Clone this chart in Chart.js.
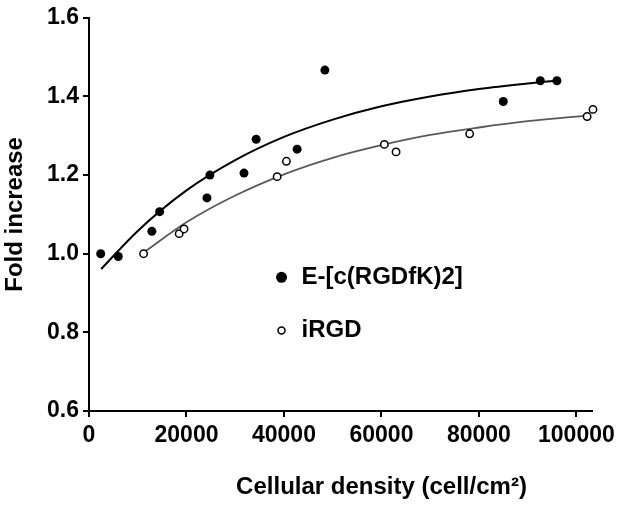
<!DOCTYPE html>
<html>
<head>
<meta charset="utf-8">
<script src="https://cdn.jsdelivr.net/npm/chart.js@4.4.1/dist/chart.umd.min.js"></script>
<style>
    html, body { margin: 0; padding: 0; background: #fff; }
    #wrap { width: 626px; height: 506px; }
</style>
</head>
<body>
<div id="wrap"><canvas id="densityChart" width="626" height="506"></canvas></div>
<script>
// values
const rgdfkX = [2400, 6000, 12900, 14500, 24200, 24800, 31800, 34300, 42700, 48400, 85000, 92600, 96000];
const rgdfkY = [1.000, 0.993, 1.057, 1.107, 1.142, 1.200, 1.205, 1.291, 1.266, 1.467, 1.387, 1.440, 1.440];
const irgdX = [11200, 18500, 19500, 38600, 40500, 60600, 63000, 78100, 102200, 103400];
const irgdY = [1.000, 1.051, 1.063, 1.196, 1.235, 1.278, 1.259, 1.305, 1.349, 1.367];

// fitted curves
const fitRgdfkX = [2500, 10000, 20000, 30000, 40000, 50000, 60000, 70000, 80000, 90000, 96000];
const fitRgdfkY = [0.961, 1.058, 1.161, 1.238, 1.297, 1.341, 1.375, 1.400, 1.419, 1.433, 1.440];
const fitIrgdX = [11200, 20000, 30000, 40000, 50000, 60000, 70000, 80000, 90000, 103000];
const fitIrgdY = [1.003, 1.080, 1.148, 1.202, 1.244, 1.276, 1.302, 1.321, 1.337, 1.352];

const xTicks = [0, 20000, 40000, 60000, 80000, 100000];
const yTicks = [0.6, 0.8, 1.0, 1.2, 1.4, 1.6];
const seriesNames = ['E-[c(RGDfK)2]', 'iRGD'];

const FONT = '"Liberation Sans", Arial, sans-serif';

function toPoints(xs, ys) {
    return xs.map((x, i) => ({ x: x, y: ys[i] }));
}

// legend inside the plot + x axis title
const annotations = {
    id: 'annotations',
    afterDraw(chart) {
        const ctx = chart.ctx;
        const xs = chart.scales.x, ys = chart.scales.y;
        const area = chart.chartArea;
        ctx.save();
        ctx.fillStyle = '#000';
        ctx.strokeStyle = '#000';
        ctx.font = 'bold 24px ' + FONT;
        ctx.textBaseline = 'middle';
        ctx.textAlign = 'left';

        // filled marker
        let px = xs.getPixelForValue(39500), py = ys.getPixelForValue(0.940);
        ctx.beginPath();
        ctx.arc(px, py, 5.5, 0, Math.PI * 2);
        ctx.fill();
        ctx.fillText(seriesNames[0], px + 20, py);

        // open marker
        py = ys.getPixelForValue(0.805);
        ctx.beginPath();
        ctx.lineWidth = 1.5;
        ctx.fillStyle = '#fff';
        ctx.arc(px, py, 3.5, 0, Math.PI * 2);
        ctx.fill();
        ctx.stroke();
        ctx.fillStyle = '#000';
        ctx.fillText(seriesNames[1], px + 20, py);

        // x axis title
        ctx.textAlign = 'center';
        ctx.fillText('Cellular density (cell/cm\u00b2)', (area.left + area.right) / 2 + 41, area.bottom + 76);
        ctx.restore();
    }
};

const densityCtx = document.getElementById('densityChart').getContext('2d');
const densityChart = new Chart(densityCtx, {
    type: 'scatter',
    data: {
        datasets: [
            {
                label: 'fit RGDfK',
                data: toPoints(fitRgdfkX, fitRgdfkY),
                showLine: true,
                borderColor: '#000',
                borderWidth: 2,
                pointRadius: 0,
                cubicInterpolationMode: 'monotone',
                clip: false,
                order: 3
            },
            {
                label: 'fit iRGD',
                data: toPoints(fitIrgdX, fitIrgdY),
                showLine: true,
                borderColor: '#5a5a5a',
                borderWidth: 1.8,
                pointRadius: 0,
                cubicInterpolationMode: 'monotone',
                clip: false,
                order: 4
            },
            {
                label: seriesNames[0],
                data: toPoints(rgdfkX, rgdfkY),
                backgroundColor: '#000',
                borderColor: '#000',
                borderWidth: 0,
                pointRadius: 4.5,
                clip: false,
                order: 1
            },
            {
                label: seriesNames[1],
                data: toPoints(irgdX, irgdY),
                backgroundColor: '#fff',
                borderColor: '#000',
                borderWidth: 1.5,
                pointRadius: 3.7,
                clip: false,
                order: 2
            }
        ]
    },
    options: {
        responsive: false,
        animation: false,
        layout: {
            padding: { top: 14, right: 34, left: 0, bottom: 0 }
        },
        plugins: {
            legend: { display: false },
            tooltip: { enabled: false }
        },
        scales: {
            x: {
                type: 'linear',
                min: 0,
                max: 103200,
                afterBuildTicks: function(scale) {
                    scale.ticks = xTicks.map(v => ({ value: v }));
                },
                afterFit: function(scale) {
                    scale.height = 95;
                },
                grid: {
                    drawOnChartArea: false,
                    drawTicks: true,
                    tickLength: 6,
                    color: '#000',
                    lineWidth: 2
                },
                border: { color: '#000', width: 2 },
                ticks: {
                    color: '#000',
                    padding: 5,
                    maxRotation: 0,
                    font: { family: FONT, size: 23, weight: 'bold' },
                    callback: v => String(v)
                }
            },
            y: {
                type: 'linear',
                min: 0.6,
                max: 1.6,
                afterBuildTicks: function(scale) {
                    scale.ticks = yTicks.map(v => ({ value: v }));
                },
                afterFit: function(scale) {
                    scale.width = 89;
                },
                grid: {
                    drawOnChartArea: false,
                    drawTicks: true,
                    tickLength: 6,
                    color: '#000',
                    lineWidth: 2
                },
                border: { color: '#000', width: 2 },
                ticks: {
                    color: '#000',
                    padding: 4,
                    font: { family: FONT, size: 23, weight: 'bold' },
                    callback: v => v.toFixed(1)
                },
                title: {
                    display: true,
                    text: 'Fold increase',
                    color: '#000',
                    padding: 1,
                    font: { family: FONT, size: 24, weight: 'bold' }
                }
            }
        }
    },
    plugins: [annotations]
});
</script>
</body>
</html>
